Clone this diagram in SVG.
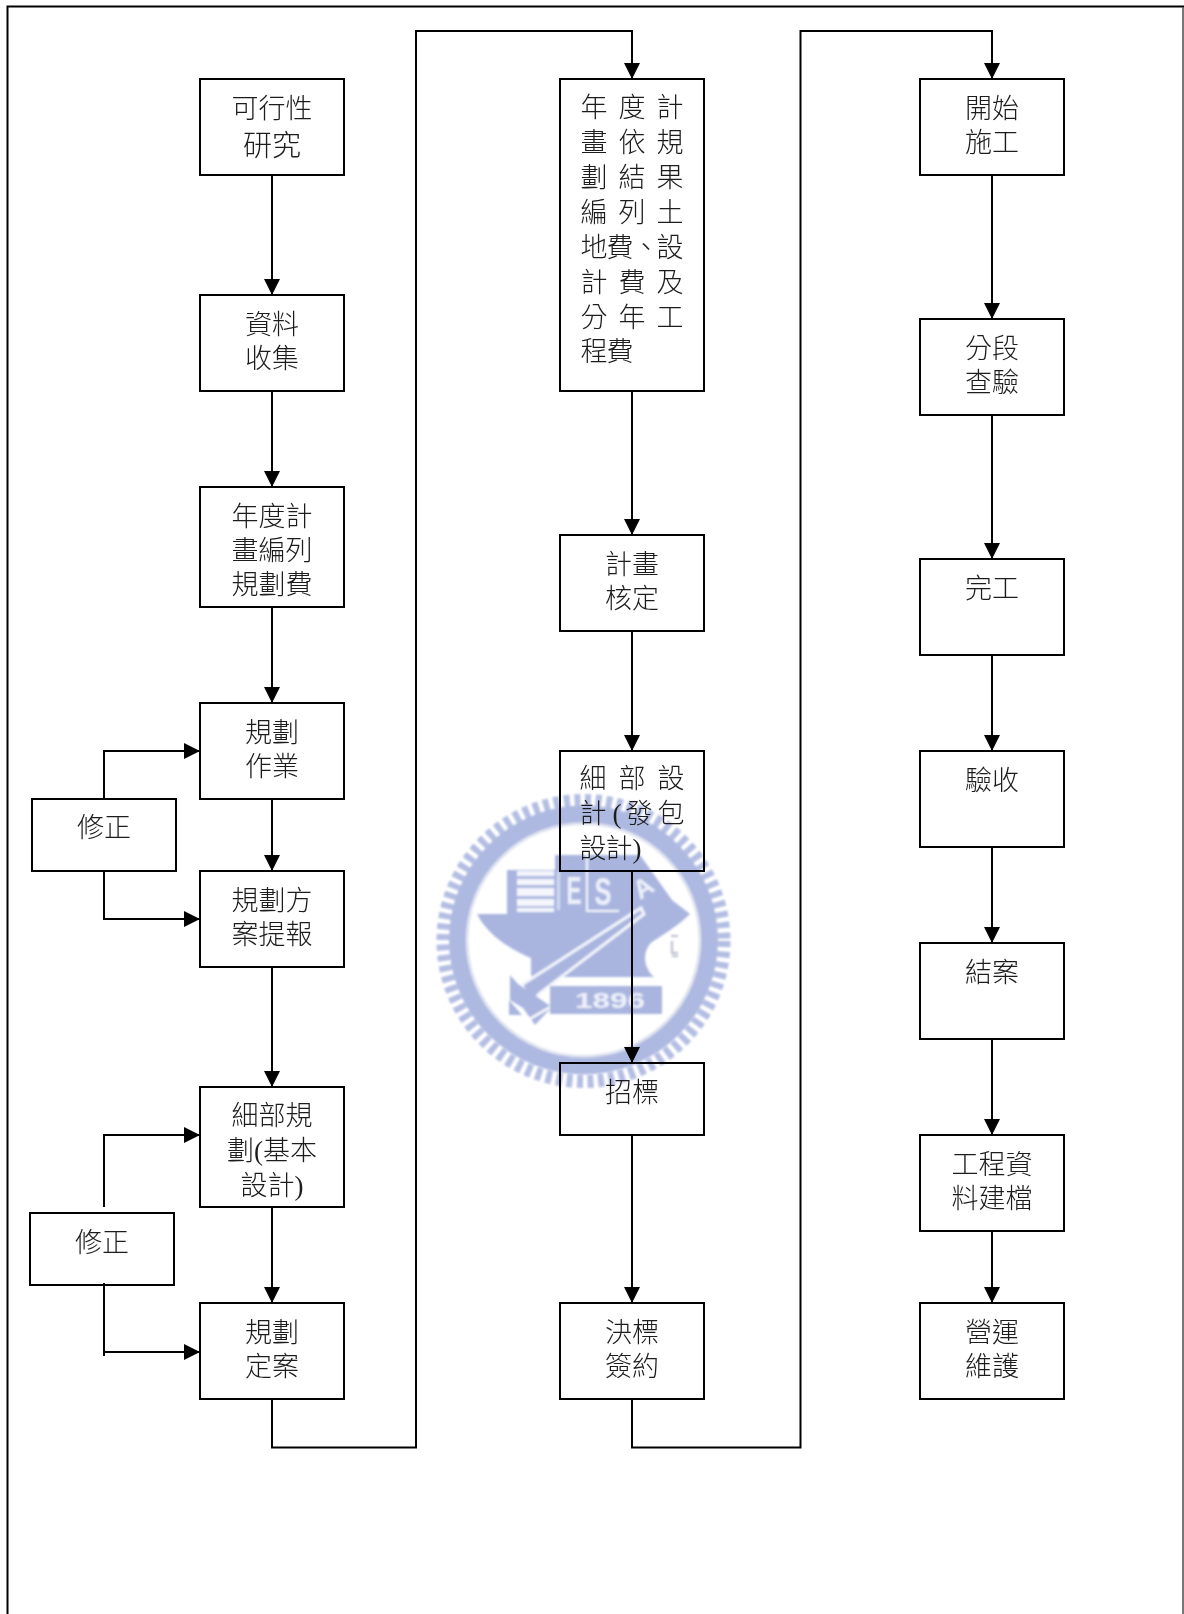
<svg xmlns="http://www.w3.org/2000/svg" width="1184" height="1614" viewBox="0 0 1184 1614">
<style>
.b{fill:none;stroke:#000;stroke-width:2}
.c{fill:none;stroke:#000;stroke-width:2}
.a{marker-end:url(#arr)}
text{font-family:"Liberation Serif","Noto Sans CJK TC",serif;font-size:27px;font-weight:300;fill:#1c1c1c}
.m{text-anchor:middle}
.w{fill:#a9b5df}
.wt{font-family:"Liberation Sans",sans-serif;font-weight:700;fill:#eef1fa}
</style>
<defs>
<marker id="arr" markerUnits="userSpaceOnUse" viewBox="0 0 16 16" markerWidth="16" markerHeight="16" refX="15" refY="8" orient="auto"><path d="M0 0L16 8L0 16Z" fill="#000"/></marker>
<filter id="soft" x="-5%" y="-5%" width="110%" height="110%"><feGaussianBlur stdDeviation="0.9"/></filter>
</defs>
<rect width="1184" height="1614" fill="#fff"/>
<g id="frame">
<path d="M7.5 1614V6.5H1184" fill="none" stroke="#000" stroke-width="2"/>
<path d="M1183 7V1614" fill="none" stroke="#555" stroke-width="1.6"/>
</g>
<g id="watermark" filter="url(#soft)">
<circle cx="583.500" cy="941" r="140.500" fill="none" stroke="#b4bee3" stroke-width="13" pathLength="880" stroke-dasharray="6 4.500"/>
<circle cx="583.500" cy="940" r="126" fill="none" stroke="#aeb9e1" stroke-width="17"/>
<circle cx="583.500" cy="940" r="116" fill="none" stroke="#d5dae8" stroke-width="1.500"/>
<path class="w" d="M477 914H507V870H555V855H640L672 900L690 914C678 926 664 934 652 942C643 950 642 966 654 977H563L531 976V958C512 950 488 936 477 914Z"/>
<g fill="#f4f6fc">
<rect x="517" y="871" width="37" height="5"/><rect x="517" y="879" width="37" height="6"/><rect x="517" y="888" width="37" height="8"/><rect x="517" y="899" width="37" height="7"/><rect x="517" y="908" width="37" height="4"/>
<rect x="557" y="872" width="3" height="38" opacity=".55"/>
<rect x="586" y="855" width="2" height="57"/><rect x="586" y="910" width="33" height="2"/>
</g>
<text class="wt" x="574" y="904" text-anchor="middle" textLength="15" lengthAdjust="spacingAndGlyphs" style="font-size:38px">E</text>
<text class="wt" x="603" y="905" text-anchor="middle" textLength="17" lengthAdjust="spacingAndGlyphs" style="font-size:38px">S</text>
<text class="wt" transform="translate(648 895) rotate(-32)" text-anchor="middle" style="font-size:26px">A</text>
<path d="M523 984L641 908L644 914L540 993L532 1002" fill="#a9b5df" stroke="#f4f6fc" stroke-width="3"/>
<path class="w" d="M510 975L518 984L552 1007L535 1025L523 1008L510 1000Z"/>
<path d="M521 1024L552 1006" stroke="#fff" stroke-width="2.500" fill="none"/>
<path class="w" d="M509 1000L522 1015H509Z"/>
<rect class="w" x="550" y="986" width="112" height="28"/>
<text class="wt" x="610" y="1008" text-anchor="middle" textLength="70" lengthAdjust="spacingAndGlyphs" style="font-size:22px">1896</text>
<path d="M671 936h7M672 941v12h6M672 956h6" fill="none" stroke="#b9bdcf" stroke-width="2"/>
</g>
<g id="connectors">
<path class="c a" d="M272 175V294"/><path class="c a" d="M272 391V486"/><path class="c a" d="M272 607V702"/><path class="c a" d="M272 799V870"/><path class="c a" d="M272 967V1086"/><path class="c a" d="M272 1207V1302"/>
<path class="c a" d="M104 799V751H199"/><path class="c a" d="M104 871V919H199"/>
<path class="c a" d="M104 1207V1135H199"/><path class="c" d="M104 1283V1356"/><path class="c a" d="M104 1352H199"/>
<path class="c a" d="M272 1399V1447.500H416V31H632V78"/>
<path class="c a" d="M632 391V534"/><path class="c a" d="M632 631V750"/><path class="c a" d="M632 871V1062"/><path class="c a" d="M632 1135V1302"/>
<path class="c a" d="M632 1399V1447.500H800.500V31H992V78"/>
<path class="c a" d="M992 175V318"/><path class="c a" d="M992 415V558"/><path class="c a" d="M992 655V750"/><path class="c a" d="M992 847V942"/><path class="c a" d="M992 1039V1134"/><path class="c a" d="M992 1231V1302"/>
</g>
<g id="n1"><rect class="b" x="200" y="79" width="144" height="96"/><text class="m" x="272" y="118">可行性</text><text class="m" x="272" y="156" style="font-size:29px">研究</text></g>
<g id="n2"><rect class="b" x="200" y="295" width="144" height="96"/><text class="m" x="272" y="334">資料</text><text class="m" x="272" y="368">收集</text></g>
<g id="n3"><rect class="b" x="200" y="487" width="144" height="120"/><text class="m" x="272" y="526">年度計</text><text class="m" x="272" y="560">畫編列</text><text class="m" x="272" y="594">規劃費</text></g>
<g id="n4"><rect class="b" x="200" y="703" width="144" height="96"/><text class="m" x="272" y="742">規劃</text><text class="m" x="272" y="776">作業</text></g>
<g id="n5"><rect class="b" x="200" y="871" width="144" height="96"/><text class="m" x="272" y="910">規劃方</text><text class="m" x="272" y="944">案提報</text></g>
<g id="n6"><rect class="b" x="200" y="1087" width="144" height="120"/><text class="m" x="272" y="1125">細部規</text><text class="m" x="272" y="1160">劃(基本</text><text class="m" x="272" y="1195">設計)</text></g>
<g id="n7"><rect class="b" x="200" y="1303" width="144" height="96"/><text class="m" x="272" y="1342">規劃</text><text class="m" x="272" y="1376">定案</text></g>
<g id="r1"><rect class="b" x="32" y="799" width="144" height="72"/><text class="m" x="104" y="837">修正</text></g>
<g id="r2"><rect class="b" x="30" y="1213" width="144" height="72"/><text class="m" x="102" y="1252">修正</text></g>
<g id="n8"><rect class="b" x="560" y="79" width="144" height="312"/>
<text class="m" x="594 632 670" y="117">年度計</text>
<text class="m" x="594 632 670" y="152">畫依規</text>
<text class="m" x="594 632 670" y="187">劃結果</text>
<text class="m" x="594 632 670" y="222">編列土</text>
<text class="m" x="594 620 646 670" y="257">地費、設</text>
<text class="m" x="594 632 670" y="292">計費及</text>
<text class="m" x="594 632 670" y="327">分年工</text>
<text class="m" x="594 620" y="361">程費</text></g>
<g id="n9"><rect class="b" x="560" y="535" width="144" height="96"/><text class="m" x="632" y="574">計畫</text><text class="m" x="632" y="608">核定</text></g>
<g id="n10"><rect class="b" x="560" y="751" width="144" height="120"/>
<text class="m" x="593 632 671" y="788">細部設</text>
<text class="m" x="593 617 639 671" y="823">計(發包</text>
<text class="m" x="593 619 637" y="858">設計)</text></g>
<g id="n11"><rect class="b" x="560" y="1063" width="144" height="72"/><text class="m" x="632" y="1102">招標</text></g>
<g id="n12"><rect class="b" x="560" y="1303" width="144" height="96"/><text class="m" x="632" y="1342">決標</text><text class="m" x="632" y="1376">簽約</text></g>
<g id="n13"><rect class="b" x="920" y="79" width="144" height="96"/><text class="m" x="992" y="118">開始</text><text class="m" x="992" y="152">施工</text></g>
<g id="n14"><rect class="b" x="920" y="319" width="144" height="96"/><text class="m" x="992" y="358">分段</text><text class="m" x="992" y="392">查驗</text></g>
<g id="n15"><rect class="b" x="920" y="559" width="144" height="96"/><text class="m" x="992" y="598">完工</text></g>
<g id="n16"><rect class="b" x="920" y="751" width="144" height="96"/><text class="m" x="992" y="790">驗收</text></g>
<g id="n17"><rect class="b" x="920" y="943" width="144" height="96"/><text class="m" x="992" y="982">結案</text></g>
<g id="n18"><rect class="b" x="920" y="1135" width="144" height="96"/><text class="m" x="992" y="1174">工程資</text><text class="m" x="992" y="1208">料建檔</text></g>
<g id="n19"><rect class="b" x="920" y="1303" width="144" height="96"/><text class="m" x="992" y="1342">營運</text><text class="m" x="992" y="1376">維護</text></g>
</svg>
